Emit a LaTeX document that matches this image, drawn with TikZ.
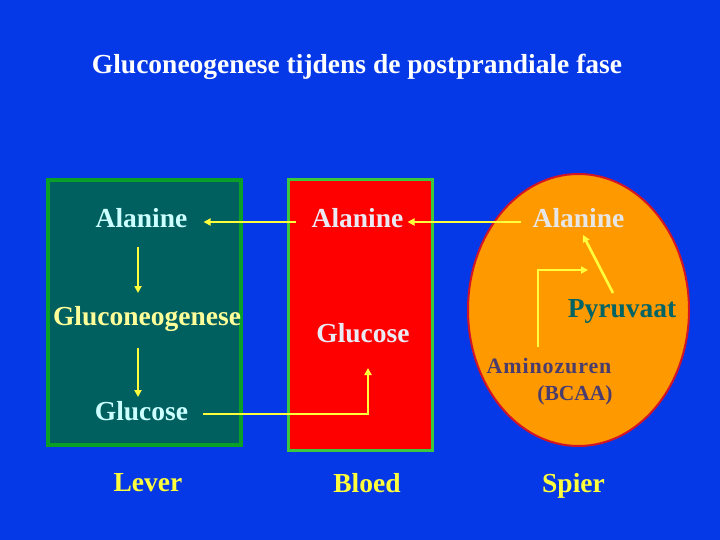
\documentclass[tikz,border=0pt]{standalone}
\usepackage{fontspec}
\setmainfont{Liberation Serif}
\usetikzlibrary{arrows.meta,shapes.geometric}
\definecolor{bg}{RGB}{5,56,230}
\definecolor{teal}{RGB}{0,96,96}
\definecolor{lgreen}{RGB}{10,160,40}
\definecolor{rgreen}{RGB}{60,200,60}
\definecolor{oran}{RGB}{255,153,0}
\definecolor{ered}{RGB}{210,20,40}
\definecolor{ylw}{RGB}{255,255,60}
\definecolor{lcyan}{RGB}{204,255,255}
\definecolor{lylw}{RGB}{255,255,153}
\definecolor{lav}{RGB}{234,234,245}
\definecolor{lgray}{RGB}{230,230,230}
\definecolor{pyr}{RGB}{0,100,100}
\definecolor{purp}{RGB}{75,60,110}
\tikzset{
  lbl/.style={inner sep=0pt, anchor=base, font=\fontsize{27.5}{30}\selectfont\bfseries},
  arr/.style={draw=ylw, line width=2.6pt, -{Triangle[length=7pt,width=7pt]}},
  boxL/.style={draw=lgreen, fill=teal, line width=4pt, minimum width=193pt, minimum height=265pt, inner sep=0pt},
  boxR/.style={draw=rgreen, fill=red, line width=3pt, minimum width=144pt, minimum height=271pt, inner sep=0pt},
  boxS/.style={ellipse, draw=ered, fill=oran, line width=2pt, minimum width=221pt, minimum height=272pt, inner sep=0pt}
}
\begin{document}
\begin{tikzpicture}[x=1pt,y=-1pt]
\fill[bg] (0,0) rectangle (720,540);
\useasboundingbox (0,0) rectangle (720,540);
\node[lbl, white] (title) at (357,74) {Gluconeogenese tijdens de postprandiale fase};
\node[boxL] (lever) at (144.5,312.5) {};
\node[boxR] (bloed) at (360.5,315) {};
\node[boxS] (spier) at (578.5,310) {};
% liver
\node[lbl, lcyan] (la) at (141.5,227) {Alanine};
\node[lbl, lylw] (gn) at (147,325) {Gluconeogenese};
\node[lbl, lcyan] (lg) at (141.5,420) {Glucose};
% blood
\node[lbl, lav] (ra) at (357.5,227) {Alanine};
\node[lbl, lav] (rg) at (363,342) {Glucose};
% muscle
\node[lbl, lgray] (sa) at (578.5,227) {Alanine};
\node[lbl, pyr] (py) at (622,317) {Pyruvaat};
\node[lbl, purp, font=\fontsize{22}{24}\selectfont\bfseries\addfontfeature{LetterSpace=4}] (am) at (549,373) {Aminozuren};
\node[lbl, purp, font=\fontsize{21.5}{24}\selectfont\bfseries] (bc) at (575,400) {(BCAA)};
% bottom labels
\node[lbl, ylw] (lt) at (148,491) {Lever};
\node[lbl, ylw] (bt) at (367,492) {Bloed};
\node[lbl, ylw] (st) at (573.5,492) {Spier};
% arrows
\draw[arr] ([xshift=-15pt,yshift=5pt]ra.base west) -- ([xshift=16pt,yshift=5pt]la.base east);
\draw[arr] ([xshift=-11pt,yshift=5pt]sa.base west) -- ([xshift=4pt,yshift=5pt]ra.base east);
\draw[arr] ([xshift=-3.5pt,yshift=-20pt]la.base) -- ([xshift=-9pt,yshift=32pt]gn.base);
\draw[arr] ([xshift=-9pt,yshift=-23pt]gn.base) -- ([xshift=-3.5pt,yshift=23pt]lg.base);
\draw[arr] ([xshift=15pt,yshift=6pt]lg.base east) -| ([xshift=5pt,yshift=-26pt]rg.base);
\draw[arr] ([xshift=-9pt,yshift=24pt]py.base) -- ([xshift=4.5pt,yshift=-8pt]sa.base);
\draw[arr] ([xshift=-11pt,yshift=26pt]am.base) |- ([xshift=-34pt,yshift=47pt]py.base);
\end{tikzpicture}
\end{document}
